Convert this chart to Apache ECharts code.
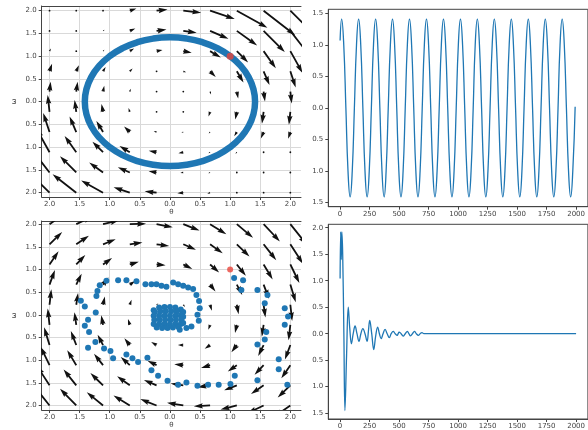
<!DOCTYPE html>
<html><head><meta charset="utf-8">
<script src="https://cdn.jsdelivr.net/npm/echarts@6/dist/echarts.min.js"></script>
<style>html,body{margin:0;padding:0;background:#fff}#c{width:588px;height:430px}</style>
</head><body><div id="c"></div>
<script>
// ---------- data ----------
const gridVals = [-2, -1.556, -1.111, -0.667, -0.222, 0.222, 0.667, 1.111, 1.556, 2];
// top-left quiver (rows: omega ascending, cols: theta ascending), arrow components in data units
const tlU = [
 [-0.470,-0.393,-0.363,-0.268,-0.198,-0.099,-0.047,-0.015,-0.007,0],
 [-0.337,-0.270,-0.230,-0.198,-0.132,-0.049,-0.031,-0.014,-0.006,-0.005],
 [-0.218,-0.193,-0.176,-0.171,-0.130,-0.081,-0.028,-0.023,-0.005,-0.004],
 [-0.105,-0.111,-0.111,-0.094,-0.047,-0.032,-0.023,-0.043,-0.046,-0.037],
 [-0.031,-0.028,-0.026,-0.021,-0.006,-0.006,-0.026,-0.026,-0.028,-0.024],
 [0.018,0.023,0.020,0.016,0.006,0.006,0.016,0.023,0.023,0.022],
 [0.042,0.044,0.043,0.047,0.016,0.047,0.094,0.111,0.098,0.089],
 [0.024,0.005,0.023,0.071,0.098,0.139,0.178,0.188,0.203,0.202],
 [0.005,0.006,0.027,0.092,0.164,0.222,0.305,0.338,0.352,0.357],
 [0,0.007,0.015,0.110,0.182,0.297,0.410,0.508,0.524,0.528]
];
const tlV = [
 [0.622,0.405,0.267,0.118,0.029,-0.015,-0.021,-0.011,-0.007,0],
 [0.572,0.357,0.217,0.113,0.025,-0.009,-0.017,-0.013,-0.008,-0.009],
 [0.519,0.358,0.233,0.136,0.034,-0.022,-0.023,-0.031,-0.009,-0.010],
 [0.417,0.343,0.245,0.124,0.021,-0.014,-0.031,-0.094,-0.141,-0.146],
 [0.371,0.261,0.172,0.083,0.008,-0.008,-0.104,-0.172,-0.261,-0.284],
 [0.218,0.218,0.129,0.063,0.008,-0.008,-0.063,-0.151,-0.218,-0.262],
 [0.167,0.135,0.094,0.062,0.007,-0.021,-0.124,-0.245,-0.303,-0.355],
 [0.058,0.009,0.031,0.057,0.026,-0.037,-0.142,-0.249,-0.376,-0.480],
 [0.009,0.008,0.026,0.052,0.031,-0.042,-0.173,-0.319,-0.466,-0.607],
 [0,0.007,0.011,0.049,0.027,-0.044,-0.181,-0.374,-0.540,-0.699]
];
// bottom-left quiver
const blU = [
 [-0.27,-0.27,-0.27,-0.27,-0.27,-0.27,-0.27,-0.27,-0.27,-0.27],
 [-0.21,-0.21,-0.21,-0.21,-0.21,-0.21,-0.21,-0.21,-0.21,-0.21],
 [-0.15,-0.15,-0.15,-0.15,-0.15,-0.15,-0.15,-0.15,-0.15,-0.15],
 [-0.09,-0.09,-0.09,-0.09,-0.09,-0.09,-0.09,-0.09,-0.09,-0.09],
 [-0.03,-0.03,-0.03,-0.03,-0.03,-0.03,-0.03,-0.03,-0.03,-0.03],
 [0.03,0.03,0.03,0.03,0.03,0.03,0.03,0.03,0.03,0.03],
 [0.09,0.09,0.09,0.09,0.09,0.09,0.09,0.09,0.09,0.09],
 [0.15,0.15,0.15,0.15,0.15,0.15,0.15,0.15,0.15,0.15],
 [0.21,0.21,0.21,0.21,0.21,0.21,0.21,0.21,0.21,0.21],
 [0.27,0.27,0.27,0.27,0.27,0.27,0.27,0.27,0.27,0.27]
];
const blV = [
 [0.45,0.37,0.29,0.22,0.14,0.06,-0.02,-0.09,-0.17,-0.25],
 [0.43,0.35,0.27,0.20,0.12,0.04,-0.04,-0.11,-0.19,-0.27],
 [0.41,0.33,0.25,0.18,0.10,0.02,-0.06,-0.14,-0.21,-0.29],
 [0.39,0.31,0.23,0.15,0.07,0.00,-0.08,-0.16,-0.24,-0.32],
 [0.36,0.28,0.21,0.13,0.05,-0.03,-0.11,-0.18,-0.26,-0.34],
 [0.34,0.26,0.18,0.11,0.03,-0.05,-0.13,-0.21,-0.28,-0.36],
 [0.32,0.24,0.16,0.08,0.00,-0.07,-0.15,-0.23,-0.31,-0.39],
 [0.29,0.21,0.14,0.06,-0.02,-0.10,-0.18,-0.25,-0.33,-0.41],
 [0.27,0.19,0.11,0.04,-0.04,-0.12,-0.20,-0.27,-0.35,-0.43],
 [0.25,0.17,0.09,0.01,-0.07,-0.14,-0.22,-0.30,-0.38,-0.45]
];
// top-left trajectory (closed orbit)
const ringTheta = [1.0,1.176,1.307,1.387,1.414,1.387,1.307,1.176,1.0,0.786,0.541,0.276,0,-0.276,-0.541,-0.786,-1.0,-1.176,-1.307,-1.387,-1.414,-1.387,-1.307,-1.176,-1.0,-0.786,-0.541,-0.276,0,0.276,0.541,0.786,1.0,1.176];
const ringOmega = [1.0,0.786,0.541,0.276,0,-0.276,-0.541,-0.786,-1.0,-1.176,-1.307,-1.387,-1.414,-1.387,-1.307,-1.176,-1.0,-0.786,-0.541,-0.276,0,0.276,0.541,0.786,1.0,1.176,1.307,1.387,1.414,1.387,1.307,1.176,1.0,0.786];
// bottom-left trajectory samples
const blTheta = [1.066,1.215,1.187,1.453,1.62,1.575,1.907,1.962,1.907,1.60,1.575,1.453,1.807,1.807,1.95,1.453,1.077,1.005,0.81,0.634,0.457,0.274,0.136,-0.04,-0.197,-0.307,-0.374,-0.529,-0.623,-0.723,-0.944,-0.988,-1.094,-1.238,-1.36,-1.343,-1.414,-1.36,-1.232,-1.414,-1.48,-1.221,-1.204,-1.166,-1.055,-0.861,-0.723,-0.556,-0.407,-0.307,-0.224,-0.141,-0.058,0.053,0.136,0.219,0.302,0.385,0.44,0.484,0.495,0.457,0.479,0.357,0.274,0.163,
 -0.27,-0.18,-0.09,0,0.09,0.18,0.22, -0.25,-0.16,-0.07,0.02,0.11,0.2, -0.27,-0.18,-0.09,0,0.09,0.18,0.22, -0.26,-0.17,-0.08,0.01,0.1,0.19, -0.27,-0.18,-0.09,0,0.09,0.18,0.22, -0.22,-0.13,-0.04,0.05,0.14];
const blOmega = [0.815,0.764,0.546,0.546,0.437,0.255,0.146,-0.036,-0.218,-0.378,-0.546,-0.655,-0.983,-1.20,-1.543,-1.441,-1.346,-1.528,-1.543,-1.543,-1.565,-1.492,-1.543,-1.456,-1.346,-1.223,-0.946,-1.04,-0.96,-0.873,-0.96,-0.80,-0.742,-0.597,-0.728,-0.378,-0.24,-0.109,0.05,0.182,0.313,0.415,0.524,0.655,0.75,0.764,0.764,0.742,0.677,0.677,0.677,0.640,0.619,0.713,0.677,0.640,0.604,0.568,0.437,0.306,0.146,0,-0.131,-0.255,-0.291,-0.328,
 0.1,0.16,0.17,0.17,0.16,0.12,0.06, 0.06,0.08,0.08,0.08,0.07,0.02, -0.02,-0.02,-0.02,-0.02,-0.02,-0.02,-0.04, -0.11,-0.11,-0.11,-0.11,-0.11,-0.11, -0.2,-0.2,-0.2,-0.2,-0.2,-0.2,-0.18, -0.28,-0.29,-0.29,-0.28,-0.27];
const startPoint = [1, 1];
// top-right time series
const tTop = [0,13,31,49,67,85,103,121,139,157,175,193,211,229,247,265,283,301,319,337,355,373,390,408,426,444,462,480,498,516,534,552,570,588,606,624,642,660,678,696,714,732,750,768,786,804,822,840,858,876,894,912,930,948,966,984,1002,1020,1038,1056,1074,1092,1110,1128,1145,1163,1181,1199,1217,1235,1253,1271,1289,1307,1325,1343,1361,1379,1397,1415,1433,1451,1469,1487,1505,1523,1541,1559,1577,1595,1613,1631,1649,1667,1685,1703,1721,1739,1757,1775,1793,1811,1829,1847,1864,1882,1900,1918,1936,1954,1972,1992];
const thetaTop = [1.07,
 1.41,1.0,0,-1.0,-1.41,-1.0,0,1.0,
 1.41,1.0,0,-1.0,-1.41,-1.0,0,1.0,
 1.41,1.0,0,-1.0,-1.41,-1.0,0,1.0,
 1.41,1.0,0,-1.0,-1.41,-1.0,0,1.0,
 1.41,1.0,0,-1.0,-1.41,-1.0,0,1.0,
 1.41,1.0,0,-1.0,-1.41,-1.0,0,1.0,
 1.41,1.0,0,-1.0,-1.41,-1.0,0,1.0,
 1.41,1.0,0,-1.0,-1.41,-1.0,0,1.0,
 1.41,1.0,0,-1.0,-1.41,-1.0,0,1.0,
 1.41,1.0,0,-1.0,-1.41,-1.0,0,1.0,
 1.41,1.0,0,-1.0,-1.41,-1.0,0,1.0,
 1.41,1.0,0,-1.0,-1.41,-1.0,0,1.0,
 1.41,1.0,0,-1.0,-1.41,-1.0,0,1.0,
 1.41,1.0,0,-1.0,-1.41,-1.0,0.02];
// bottom-right time series
const tBot = [0,5,10,15,22,32,41,55,69,82,96,111,127,143,160,176,193,211,229,240,251,268,285,301,318,333,348,364,381,399,417,433,450,467,484,492,500,517,534,552,570,583,597,613,630,646,663,678,694,710,740,2000];
const thetaBot = [1.04,1.92,1.4,1.92,1.5,0.0,-1.45,-0.4,0.5,0.1,-0.19,0.0,0.145,0.0,-0.145,0.0,0.094,0.0,-0.145,0.05,0.25,0.0,-0.30,-0.05,0.126,0.0,-0.094,0.0,0.08,0.0,-0.075,0.0,0.044,0.0,-0.03,0.0,0.03,0.0,-0.044,0.0,0.044,0.0,-0.04,0.0,0.044,0.0,-0.03,0.0,0.02,0.0,0.0,0.0];
const timeTickStep = 250;
const phaseTickStep = 0.5;

// ---------- helpers ----------
const FONT = 'DejaVu Sans';
const LBL = '#444';
const SPINE = '#444';
const BLUE = '#1f77b4';
const absFmt = v => (Math.abs(v) < 1e-9 ? 0 : Math.abs(v)).toFixed(1);

function quiverData(U, V) {
  const d = [];
  for (let j = 0; j < gridVals.length; j++)
    for (let i = 0; i < gridVals.length; i++)
      d.push([gridVals[i], gridVals[j], U[j][i], V[j][i]]);
  return d;
}
function arrowItem(params, api) {
  const x = api.value(0), y = api.value(1), u = api.value(2), v = api.value(3);
  const p0 = api.coord([x, y]), p1 = api.coord([x + u, y + v]);
  const dx = p1[0] - p0[0], dy = p1[1] - p0[1];
  const L = Math.hypot(dx, dy);
  const w = 1.8;
  if (L < w) {
    return {type: 'circle', shape: {cx: p0[0], cy: p0[1], r: 0.9}, style: {fill: '#111'}};
  }
  let sw = w / 2, hw = 1.5 * w, hl = 5 * w, hal = 4.5 * w;
  if (L < hl) { const f = L / hl; sw *= f; hw *= f; hl *= f; hal *= f; }
  const c = dx / L, s = dy / L;
  const loc = [[0, -sw], [L - hal, -sw], [L - hl, -hw], [L, 0], [L - hl, hw], [L - hal, sw], [0, sw]];
  const pts = loc.map(([a, b]) => [p0[0] + a * c - b * s, p0[1] + a * s + b * c]);
  return {type: 'polygon', shape: {points: pts}, style: {fill: '#111'}};
}
function zipXY(a, b) { return a.map((v, k) => [v, b[k]]); }

const lblStyle = {fontFamily: FONT, fontSize: 7, color: LBL};
function phaseX(gi, min, max, name) {
  return {gridIndex: gi, type: 'value', min: min, max: max, minInterval: phaseTickStep, maxInterval: phaseTickStep,
    name: name, nameLocation: 'middle', nameGap: 12, nameTextStyle: lblStyle,
    axisLine: {show: true, onZero: false, lineStyle: {color: SPINE, width: 1}},
    axisTick: {show: true, length: 3, lineStyle: {color: SPINE}},
    axisLabel: Object.assign({margin: 4, formatter: absFmt, showMinLabel: false, showMaxLabel: false}, lblStyle),
    splitLine: {show: true, showMinLine: false, showMaxLine: false, lineStyle: {color: '#d9d9d9', width: 1}}};
}
function topSpine(gi, min, max) {
  return {gridIndex: gi, type: 'value', position: 'top', min: min, max: max,
    axisLine: {show: true, onZero: false, lineStyle: {color: SPINE, width: 1}},
    axisTick: {show: false}, axisLabel: {show: false}, splitLine: {show: false}};
}
function phaseY(gi, min, max, name) {
  return {gridIndex: gi, type: 'value', min: min, max: max, minInterval: phaseTickStep, maxInterval: phaseTickStep,
    name: name, nameLocation: 'middle', nameGap: 24, nameRotate: 90, nameTextStyle: lblStyle,
    axisLine: {show: true, onZero: false, lineStyle: {color: SPINE, width: 1}},
    axisTick: {show: true, length: 3, lineStyle: {color: SPINE}},
    axisLabel: Object.assign({margin: 5, formatter: absFmt, showMinLabel: false, showMaxLabel: false}, lblStyle),
    splitLine: {show: true, showMinLine: false, showMaxLine: false, lineStyle: {color: '#d9d9d9', width: 1}}};
}
function timeX(gi) {
  return {gridIndex: gi, type: 'value', min: -100, max: 2100, minInterval: timeTickStep, maxInterval: timeTickStep,
    axisLine: {show: true, onZero: false, lineStyle: {color: SPINE, width: 1}},
    axisTick: {show: true, length: 3, lineStyle: {color: SPINE}},
    axisLabel: Object.assign({margin: 4, formatter: v => String(Math.round(v)), showMinLabel: false, showMaxLabel: false}, lblStyle),
    splitLine: {show: false}};
}
function timeY(gi, min, max) {
  return {gridIndex: gi, type: 'value', min: min, max: max, minInterval: phaseTickStep, maxInterval: phaseTickStep,
    axisLine: {show: true, onZero: false, lineStyle: {color: SPINE, width: 1}},
    axisTick: {show: true, length: 3, lineStyle: {color: SPINE}},
    axisLabel: Object.assign({margin: 5, formatter: absFmt, showMinLabel: false, showMaxLabel: false}, lblStyle),
    splitLine: {show: false}};
}

const chart = echarts.init(document.getElementById('c'), null, {renderer: 'canvas'});
const XMIN = -2.13, XMAX = 2.177;
chart.setOption({
  animation: false,
  backgroundColor: '#fff',
  grid: [
    {left: 41.7, top: 6, width: 259.3, height: 191, show: false},
    {left: 328.3, top: 9.3, width: 265.1, height: 197.4, show: true, borderColor: SPINE, borderWidth: 1},
    {left: 41.7, top: 221, width: 259.3, height: 190.7, show: false},
    {left: 328.3, top: 224.3, width: 265.1, height: 194.7, show: true, borderColor: SPINE, borderWidth: 1}
  ],
  xAxis: [phaseX(0, XMIN, XMAX, 'θ'), timeX(1), phaseX(2, XMIN, XMAX, 'θ'), timeX(3), topSpine(0, XMIN, XMAX), topSpine(2, XMIN, XMAX)],
  yAxis: [phaseY(0, -2.095, 2.103, 'ω'), timeY(1, -1.565, 1.565), phaseY(2, -2.1, 2.07, 'ω'), timeY(3, -1.61, 2.065)],
  series: [
    {type: 'custom', xAxisIndex: 0, yAxisIndex: 0, clip: true, z: 2, renderItem: arrowItem, data: quiverData(tlU, tlV), encode: {x: 0, y: 1}},
    {type: 'line', xAxisIndex: 0, yAxisIndex: 0, z: 3, smooth: 0.5, showSymbol: false, data: zipXY(ringTheta, ringOmega),
      lineStyle: {color: BLUE, width: 6.5, cap: 'round'}},
    {type: 'scatter', xAxisIndex: 0, yAxisIndex: 0, z: 4, symbolSize: 7, data: [startPoint], itemStyle: {color: '#e8443a'}},
    {type: 'line', xAxisIndex: 1, yAxisIndex: 1, smooth: 0.5, showSymbol: false, data: zipXY(tTop, thetaTop), lineStyle: {color: BLUE, width: 1.3}},
    {type: 'custom', xAxisIndex: 2, yAxisIndex: 2, clip: true, z: 2, renderItem: arrowItem, data: quiverData(blU, blV), encode: {x: 0, y: 1}},
    {type: 'scatter', xAxisIndex: 2, yAxisIndex: 2, z: 3, symbolSize: 6, data: zipXY(blTheta, blOmega), itemStyle: {color: BLUE, opacity: 1}},
    {type: 'scatter', xAxisIndex: 2, yAxisIndex: 2, z: 4, symbolSize: 6, data: [startPoint], itemStyle: {color: '#e8443a'}},
    {type: 'line', xAxisIndex: 3, yAxisIndex: 3, smooth: 0.4, showSymbol: false, data: zipXY(tBot, thetaBot), lineStyle: {color: BLUE, width: 1.3}}
  ]
});
</script></body></html>
